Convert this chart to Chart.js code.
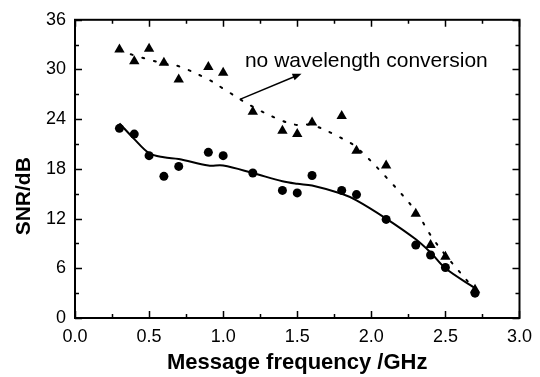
<!DOCTYPE html>
<html>
<head>
<meta charset="utf-8">
<script src="https://cdn.jsdelivr.net/npm/chart.js@4.4.1/dist/chart.umd.min.js"></script>
<style>
    html, body { margin: 0; padding: 0; background: #fff; }
    #wrap { width: 540px; height: 377px; }
</style>
</head>
<body>
<div id="wrap"><canvas id="snrChart" width="540" height="377"></canvas></div>
<script>
/** ---------- data ---------- */
const freqs = [0.3, 0.4, 0.5, 0.6, 0.7, 0.9, 1.0, 1.2, 1.4, 1.5, 1.6, 1.8, 1.9, 2.1, 2.3, 2.4, 2.5, 2.7];

// measured points
const snrConverted = [22.9, 22.2, 19.6, 17.1, 18.3, 20.0, 19.6, 17.5, 15.4, 15.1, 17.2, 15.4, 14.9, 11.9, 8.8, 7.6, 6.1, 3.0];
const snrNoConversion = [32.4, 31.0, 32.5, 30.8, 28.8, 30.3, 29.6, 24.9, 22.6, 22.2, 23.6, 24.4, 20.2, 18.4, 12.6, 8.8, 7.4, 3.4];

// smoothed trend curves
const fitConverted = [23.5, 21.6, 19.9, 19.4, 19.2, 18.4, 18.4, 17.5, 16.5, 16.2, 16.0, 15.0, 14.2, 12.0, 9.5, 7.9, 6.0, 3.6];
const fitNoConversion = [32.3, 31.7, 31.2, 30.7, 30.4, 28.8, 27.7, 25.5, 23.8, 23.3, 23.3, 21.7, 20.6, 17.0, 12.9, 10.0, 7.6, 3.4];

const xTickLabels = ['0.0', '0.5', '1.0', '1.5', '2.0', '2.5', '3.0'];
const yTickLabels = ['0', '6', '12', '18', '24', '30', '36'];

const xTitle = 'Message frequency /GHz';
const yTitle = 'SNR/dB';
const noteText = 'no wavelength conversion';

const FONT = "'Liberation Sans', Arial, Helvetica, sans-serif";

function toPoints(xs, ys) {
    return xs.map((x, i) => ({x: x, y: ys[i]}));
}

/** draws frame, inward ticks on all sides, y title and the annotation */
const framePlugin = {
    id: 'frame',
    afterDraw(chart) {
        const ctx = chart.ctx;
        const xs = chart.scales.x;
        const ys = chart.scales.y;
        const a = chart.chartArea;

        ctx.save();
        ctx.strokeStyle = '#000';
        ctx.lineWidth = 2;
        ctx.strokeRect(a.left, a.top, a.right - a.left, a.bottom - a.top);

        ctx.lineWidth = 1.5;
        ctx.beginPath();
        for (let v = 0; v <= 3.0001; v += 0.25) {
            let px = Math.round(xs.getPixelForValue(v)) + 0.5;
            let len = (Math.round(v * 4) % 2 === 0) ? 7 : 4;
            ctx.moveTo(px, a.bottom);
            ctx.lineTo(px, a.bottom - len);
            ctx.moveTo(px, a.top);
            ctx.lineTo(px, a.top + len);
        }
        for (let v = 0; v <= 36; v += 3) {
            let py = Math.round(ys.getPixelForValue(v)) + 0.5;
            let len = (v % 6 === 0) ? 7 : 4;
            ctx.moveTo(a.left, py);
            ctx.lineTo(a.left + len, py);
            ctx.moveTo(a.right, py);
            ctx.lineTo(a.right - len, py);
        }
        ctx.stroke();

        // y axis title, rotated
        ctx.fillStyle = '#000';
        ctx.font = 'bold 21px ' + FONT;
        ctx.textAlign = 'center';
        ctx.textBaseline = 'middle';
        ctx.translate(24, ys.getPixelForValue(14.7));
        ctx.rotate(-Math.PI / 2);
        ctx.fillText(yTitle, 0, 0);
        ctx.restore();

        // annotation text and arrow
        ctx.save();
        ctx.fillStyle = '#000';
        ctx.strokeStyle = '#000';
        ctx.font = '21px ' + FONT;
        ctx.textAlign = 'left';
        ctx.textBaseline = 'alphabetic';
        ctx.fillText(noteText, xs.getPixelForValue(1.147), ys.getPixelForValue(30.3));

        let x0 = xs.getPixelForValue(1.113), y0 = ys.getPixelForValue(26.4);
        let x1 = xs.getPixelForValue(1.529), y1 = ys.getPixelForValue(29.5);
        let ang = Math.atan2(y1 - y0, x1 - x0);
        ctx.lineWidth = 1.5;
        ctx.beginPath();
        ctx.moveTo(x0, y0);
        ctx.lineTo(x1 - 6 * Math.cos(ang), y1 - 6 * Math.sin(ang));
        ctx.stroke();
        ctx.beginPath();
        ctx.moveTo(x1, y1);
        ctx.lineTo(x1 - 9 * Math.cos(ang) + 3.5 * Math.sin(ang), y1 - 9 * Math.sin(ang) - 3.5 * Math.cos(ang));
        ctx.lineTo(x1 - 9 * Math.cos(ang) - 3.5 * Math.sin(ang), y1 - 9 * Math.sin(ang) + 3.5 * Math.cos(ang));
        ctx.closePath();
        ctx.fill();
        ctx.restore();
    }
};

const ctx = document.getElementById('snrChart').getContext('2d');
const snrChart = new Chart(ctx, {
    type: 'scatter',
    data: {
        datasets: [
            {
                label: 'fit no conversion',
                data: toPoints(freqs, fitNoConversion),
                showLine: true,
                borderColor: '#000',
                borderWidth: 2,
                borderDash: [2, 10],
                borderCapStyle: 'round',
                pointRadius: 0,
                tension: 0.35
            },
            {
                label: 'fit converted',
                data: toPoints(freqs, fitConverted),
                showLine: true,
                borderColor: '#000',
                borderWidth: 2,
                pointRadius: 0,
                tension: 0.35
            },
            {
                label: 'no wavelength conversion',
                data: toPoints(freqs, snrNoConversion),
                pointStyle: 'triangle',
                pointRadius: 6,
                backgroundColor: '#000',
                borderColor: '#000',
                borderWidth: 0
            },
            {
                label: 'wavelength conversion',
                data: toPoints(freqs, snrConverted),
                pointStyle: 'circle',
                pointRadius: 4.5,
                backgroundColor: '#000',
                borderColor: '#000',
                borderWidth: 0
            }
        ]
    },
    options: {
        responsive: false,
        devicePixelRatio: 1,
        animation: false,
        layout: {
            padding: {left: 0, right: 20, top: 17, bottom: 0}
        },
        plugins: {
            legend: {display: false},
            tooltip: {enabled: false}
        },
        scales: {
            x: {
                type: 'linear',
                min: 0,
                max: 3,
                afterFit: function (scale) {
                    scale.height = 59;
                },
                afterBuildTicks: function (scale) {
                    scale.ticks = xTickLabels.map(t => ({value: Number(t)}));
                },
                grid: {display: false, drawTicks: false},
                border: {display: false},
                ticks: {
                    color: '#000',
                    padding: 8,
                    maxRotation: 0,
                    font: {family: FONT, size: 18},
                    callback: function (value, index) {
                        return xTickLabels[index];
                    }
                },
                title: {
                    display: true,
                    text: xTitle,
                    color: '#000',
                    font: {family: FONT, size: 22, weight: 'bold'},
                    padding: {top: 0, bottom: 1}
                }
            },
            y: {
                type: 'linear',
                min: 0,
                max: 36,
                afterFit: function (scale) {
                    scale.width = 75;
                },
                afterBuildTicks: function (scale) {
                    scale.ticks = yTickLabels.map(t => ({value: Number(t)}));
                },
                grid: {display: false, drawTicks: false},
                border: {display: false},
                ticks: {
                    color: '#000',
                    padding: 9,
                    font: {family: FONT, size: 18},
                    callback: function (value, index) {
                        return yTickLabels[index];
                    }
                }
            }
        }
    },
    plugins: [framePlugin]
});
</script>
</body>
</html>
